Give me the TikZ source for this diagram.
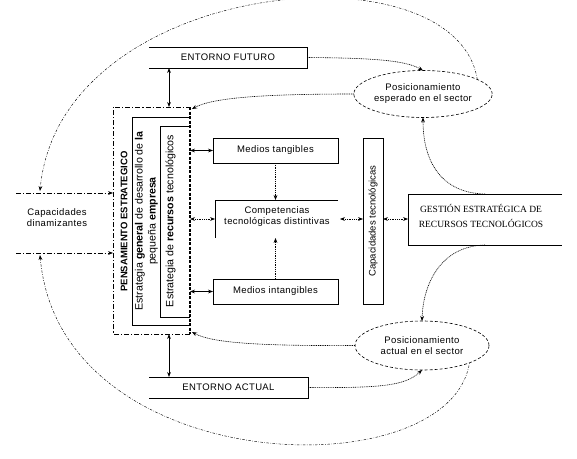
\documentclass[tikz,border=0pt]{standalone}
\usepackage{fontspec}
\setmainfont{Liberation Sans}
\newfontfamily\lsp{Liberation Sans}[LetterSpace=4]
\newfontfamily\serifcaps{Liberation Serif}
\usetikzlibrary{arrows.meta,shapes.geometric,calc}
\tikzset{
  >={Stealth[length=5pt,width=3.8pt]},
  ln/.style={line width=0.7pt},
  txt/.style={font=\lsp\fontsize{9.5}{11}\selectfont, align=center, inner sep=0pt},
  bigtxt/.style={font=\fontsize{10.6}{13}\selectfont, align=center, inner sep=0pt},
  blank/.style={inner sep=0pt, outer sep=0pt},
  bx/.style={draw, line width=0.7pt, inner sep=0pt, outer sep=0pt},
  dbl/.style={<->, line width=0.9pt},
  dots/.style={dash pattern=on 1pt off 0.8pt, line width=0.6pt},
  dd/.style={dash pattern=on 5pt off 2pt on 1.2pt off 2pt, line width=0.9pt},
  heavydash/.style={dash pattern=on 3pt off 1.5pt, line width=1.3pt},
  big/.style={dash pattern=on 2.5pt off 1.5pt on 0.6pt off 1.5pt, line width=0.45pt},
  ell/.style={ellipse, draw, dash pattern=on 3pt off 2pt, line width=0.6pt, inner sep=0pt, outer sep=0pt}
}
\begin{document}
\begin{tikzpicture}[x=1pt,y=-1pt]
\useasboundingbox (0,0) rectangle (577,458);
\fill[white] (0,0) rectangle (577,458);

% Entorno boxes (open on the left)
\node[blank, txt, minimum width=158pt, minimum height=21pt] (ef) at (228,57.5) {ENTORNO FUTURO};
\draw[ln] (ef.north west) -- (ef.north east) -- (ef.south east) -- (ef.south west);
\node[blank, txt, minimum width=159pt, minimum height=21pt] (ea) at (228.5,387.5) {ENTORNO ACTUAL};
\draw[ln] (ea.north west) -- (ea.north east) -- (ea.south east) -- (ea.south west);

% Pensamiento estrategico box
\node[blank, minimum width=77pt, minimum height=227pt] (pe) at (151.5,220.5) {};
\draw[dd] (pe.south east) -- (pe.south west) -- (pe.north west) -- (pe.north east);
\node[blank, minimum width=58pt, minimum height=208pt] (eg) at (161,221) {};
\draw[ln] (eg.north east) -- (eg.north west) -- (eg.south west) -- (eg.south east);
\node[blank, minimum width=30pt, minimum height=191pt] (er) at (175,221.5) {};
\draw[ln] (er.north east) -- (er.north west) -- (er.south west) -- (er.south east);
\draw[heavydash] (pe.north east) -- (pe.south east);

\node[rotate=90, inner sep=0pt, font=\bfseries\fontsize{9.5}{11}\selectfont] (tpe) at (124,221.5) {PENSAMIENTO ESTRATEGICO};
\node[rotate=90, bigtxt] (teg) at (146.5,221) {Estrategia \textbf{general} de desarrollo de \textbf{la}\\pequeña \textbf{empresa}};
\node[rotate=90, bigtxt] (ter) at (170.5,221) {Estrategia de \textbf{recursos} tecnológicos};

% Medios & competencias
\node[bx, txt, minimum width=125pt, minimum height=25pt] (mt) at (275.5,150.5) {Medios tangibles};
\node[blank, minimum width=123pt, minimum height=38pt] (ct) at (276.5,219) {};
\draw[ln] (ct.north east) -- (ct.north west) -- (ct.south west);
\node[txt] (tct) at (277,216.5) {Competencias\\tecnológicas distintivas};
\node[bx, txt, minimum width=125pt, minimum height=25pt] (mi) at (275.5,291.5) {Medios intangibles};

% Capacidades tecnologicas
\node[bx, minimum width=20pt, minimum height=166pt] (cap) at (373,221) {};
\node[rotate=90, inner sep=0pt, font=\fontsize{9.5}{11}\selectfont] (tcap) at (373,221) {Capacidades tecnológicas};

% Gestion
\node[blank, minimum width=154pt, minimum height=51pt] (gs) at (485,219.5) {};
\draw[ln] (gs.north east) -- (gs.north west) -- (gs.south west) -- (gs.south east);
\node[inner sep=0pt, align=center, font=\serifcaps\fontsize{9.5}{15}\selectfont] (tgs) at (481,215.5) {GESTIÓN ESTRATÉGICA DE\\RECURSOS TECNOLÓGICOS};

% Ellipses
\node[ell, txt, minimum width=138pt, minimum height=47pt] (esp) at (423,94) {Posicionamiento\\esperado en el sector};
\node[ell, txt, minimum width=134pt, minimum height=49pt] (act) at (422,345.5) {Posicionamiento\\actual en el sector};

% Capacidades dinamizantes
\node[txt] (cd) at (57,218) {Capacidades\\dinamizantes};
\coordinate (l1) at (16,193);
\coordinate (l2) at (16,253);
\draw[dd, line width=0.7pt, ->] (l1) -- (l1 -| pe.west);
\draw[dd, line width=0.7pt, ->] (l2) -- (l2 -| pe.west);

% Vertical double arrows
\draw[dbl] ([xshift=20pt]ef.south west) -- ([xshift=56pt]pe.north west);
\draw[dbl] ([xshift=56pt]pe.south west) -- ([xshift=20pt]ea.north west);

% Horizontal links
\draw[dbl, line width=0.8pt] (pe.east |- mt.west) -- (mt.west);
\draw[dots, <->] (pe.east |- ct.west) -- (ct.west);
\draw[dbl, line width=0.8pt] (pe.east |- mi.west) -- (mi.west);
\draw[dots, ->] (mt.south) -- (mt.south |- ct.north);
\draw[dots, ->] (mi.north) -- (mi.north |- ct.south);
\draw[dots, <->] ([xshift=2pt]ct.east) -- (ct.east -| cap.west);
\draw[dots, <->] (ct.east -| cap.east) -- (ct.east -| gs.west);

% Curved dotted arrows
\draw[dots, ->] (ef.east) .. controls (370,58) and (405,60) .. (esp.north);
\draw[dots, ->] (esp.west) .. controls (260,94) and (212,98) .. ([xshift=2pt,yshift=-2pt]pe.north east);
\draw[dots, ->] (act.west) .. controls (260,346) and (212,343) .. ([xshift=2pt,yshift=2pt]pe.south east);
\draw[dots, ->] (ea.east) .. controls (380,388) and (405,386) .. (act.south);
\draw[dots, ->] (gs.north) .. controls (440,193) and (423,160) .. (esp.south);
\draw[dots, ->] (gs.south) .. controls (440,246) and (423,285) .. (act.north);

% Big outer curves
\coordinate (t1) at (40,191);
\coordinate (t2) at (40,255);
\draw[big, ->] (esp.15) .. controls (455,-58) and (60,-22) .. (t1);
\draw[big, <-] (t2) .. controls (60,480) and (450,490) .. (act.-20);
\end{tikzpicture}
\end{document}
